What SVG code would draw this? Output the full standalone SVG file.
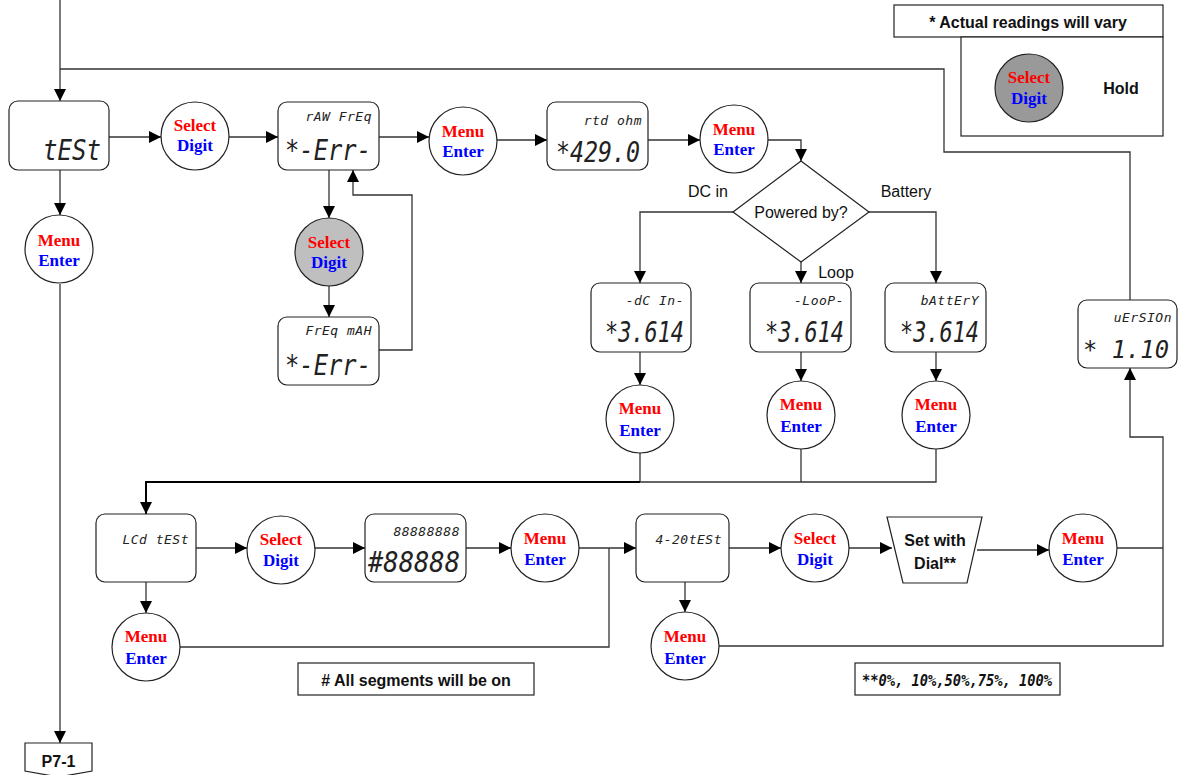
<svg xmlns="http://www.w3.org/2000/svg" width="1178" height="775" viewBox="0 0 1178 775">
<style>
.bg{fill:#fff}
.box{fill:#fff;stroke:#222;stroke-width:1.2}
.btn{fill:#fff;stroke:#222;stroke-width:1.2}
.gray{fill:#bfbfbf;stroke:#222;stroke-width:1.2}
.dgray{fill:#999;stroke:#222;stroke-width:1.2}
.r{font-family:"Liberation Serif",serif;font-weight:bold;font-size:17px;fill:#f00;text-anchor:middle}
.b{font-family:"Liberation Serif",serif;font-weight:bold;font-size:17px;fill:#00f;text-anchor:middle}
.lcds{font-family:"DejaVu Sans Mono","Liberation Mono",monospace;font-style:italic;font-size:13px;fill:#222;text-anchor:end;letter-spacing:0.5px}
.lcdb{font-family:"DejaVu Sans Mono","Liberation Mono",monospace;font-style:italic;font-size:29px;fill:#222}
.lbl{font-family:"Liberation Sans",sans-serif;font-size:16px;fill:#111}
.note{font-family:"Liberation Sans",sans-serif;font-weight:bold;font-size:16px;fill:#111}
.con{fill:none;stroke:#333;stroke-width:1.3}
</style>
<defs>
<marker id="ah" markerWidth="12" markerHeight="12" refX="12" refY="6" orient="auto" markerUnits="userSpaceOnUse"><path d="M0,0 L12,6 L0,12 z" fill="#000"/></marker>
</defs>
<rect class="bg" width="1178" height="775"/>

<g id="connectors">
<path class="con" d="M60,0 V101" marker-end="url(#ah)"/>
<path class="con" d="M1130,300 V152 H944 V69 H60"/>
<path class="con" d="M109,137 H161" marker-end="url(#ah)"/>
<path class="con" d="M229,137 H278" marker-end="url(#ah)"/>
<path class="con" d="M379,137 H429" marker-end="url(#ah)"/>
<path class="con" d="M497,140 H547" marker-end="url(#ah)"/>
<path class="con" d="M648,140 H700" marker-end="url(#ah)"/>
<path class="con" d="M768,140 H801 V161" marker-end="url(#ah)"/>
<path class="con" d="M733,212 H640 V283" marker-end="url(#ah)"/>
<path class="con" d="M801,262 V283" marker-end="url(#ah)"/>
<path class="con" d="M869,212 H936 V283" marker-end="url(#ah)"/>
<path class="con" d="M640,352 V385" marker-end="url(#ah)"/>
<path class="con" d="M801,352 V381" marker-end="url(#ah)"/>
<path class="con" d="M936,352 V381" marker-end="url(#ah)"/>
<path class="con" d="M640,453 V482"/>
<path class="con" d="M801,449 V482"/>
<path class="con" d="M936,449 V482 H640"/>
<path class="con" style="stroke-width:2;stroke:#000" d="M640,482 H146 V514" marker-end="url(#ah)"/>
<path class="con" d="M60,170 V215" marker-end="url(#ah)"/>
<path class="con" d="M60,284 V743" marker-end="url(#ah)"/>
<path class="con" d="M329,170 V218" marker-end="url(#ah)"/>
<path class="con" d="M329,286 V317" marker-end="url(#ah)"/>
<path class="con" d="M379,350 H412 V195 H353 V170" marker-end="url(#ah)"/>
<path class="con" d="M196,548 H247" marker-end="url(#ah)"/>
<path class="con" d="M315,548 H365" marker-end="url(#ah)"/>
<path class="con" d="M466,548 H511" marker-end="url(#ah)"/>
<path class="con" d="M579,548 H636" marker-end="url(#ah)"/>
<path class="con" d="M146,582 V613" marker-end="url(#ah)"/>
<path class="con" d="M180,647 H609 V548"/>
<path class="con" d="M729,548 H781" marker-end="url(#ah)"/>
<path class="con" d="M849,548 H892" marker-end="url(#ah)"/>
<path class="con" d="M977,550 H1049" marker-end="url(#ah)"/>
<path class="con" d="M1117,548 H1163"/>
<path class="con" d="M719,646 H1163 V437 H1130 V368" marker-end="url(#ah)"/>
<path class="con" d="M685,582 V612" marker-end="url(#ah)"/>
</g>

<g id="test">
<rect class="box" x="9" y="101" width="100" height="69" rx="9"/>
<text class="lcdb" x="43" y="160" textLength="58" lengthAdjust="spacingAndGlyphs">tESt</text>
</g>
<g id="menu-test">
<circle class="btn" cx="59" cy="249" r="34"/>
<text class="r" x="59" y="246">Menu</text><text class="b" x="59" y="266">Enter</text>
</g>
<g id="select1">
<circle class="btn" cx="195" cy="136" r="34"/>
<text class="r" x="195" y="131">Select</text><text class="b" x="195" y="151">Digit</text>
</g>
<g id="rawfreq">
<rect class="box" x="278" y="102" width="101" height="68" rx="9"/>
<text class="lcds" x="372" y="121">rAW FrEq</text>
<text class="lcdb" x="285" y="160" textLength="86" lengthAdjust="spacingAndGlyphs">*-Err-</text>
</g>
<g id="select-hold">
<circle class="gray" cx="329" cy="252" r="34"/>
<text class="r" x="329" y="248">Select</text><text class="b" x="329" y="268">Digit</text>
</g>
<g id="freqmah">
<rect class="box" x="278" y="317" width="101" height="68" rx="9"/>
<text class="lcds" x="372" y="335">FrEq mAH</text>
<text class="lcdb" x="285" y="375" textLength="86" lengthAdjust="spacingAndGlyphs">*-Err-</text>
</g>
<g id="menu1">
<circle class="btn" cx="463" cy="141" r="34"/>
<text class="r" x="463" y="137">Menu</text><text class="b" x="463" y="157">Enter</text>
</g>
<g id="rtd">
<rect class="box" x="547" y="102" width="101" height="68" rx="9"/>
<text class="lcds" x="642" y="125">rtd ohm</text>
<text class="lcdb" x="556" y="162" textLength="84" lengthAdjust="spacingAndGlyphs">*429.0</text>
</g>
<g id="menu2">
<circle class="btn" cx="734" cy="139" r="34"/>
<text class="r" x="734" y="135">Menu</text><text class="b" x="734" y="155">Enter</text>
</g>
<g id="powered">
<polygon class="box" points="801,161 869,212 801,262 733,212"/>
<text class="lbl" x="801" y="218" text-anchor="middle">Powered by?</text>
<text class="lbl" x="708" y="197" text-anchor="middle">DC in</text>
<text class="lbl" x="906" y="197" text-anchor="middle">Battery</text>
<text class="lbl" x="836" y="278" text-anchor="middle">Loop</text>
</g>
<g id="dcin">
<rect class="box" x="591" y="283" width="100" height="69" rx="9"/>
<text class="lcds" x="684" y="305">-dC In-</text>
<text class="lcdb" x="605" y="342" textLength="79" lengthAdjust="spacingAndGlyphs">*3.614</text>
</g>
<g id="loop">
<rect class="box" x="750" y="283" width="101" height="69" rx="9"/>
<text class="lcds" x="844" y="305">-LooP-</text>
<text class="lcdb" x="765" y="342" textLength="79" lengthAdjust="spacingAndGlyphs">*3.614</text>
</g>
<g id="battery">
<rect class="box" x="885" y="283" width="101" height="69" rx="9"/>
<text class="lcds" x="979" y="305">bAttErY</text>
<text class="lcdb" x="900" y="342" textLength="79" lengthAdjust="spacingAndGlyphs">*3.614</text>
</g>
<g id="menu-dc">
<circle class="btn" cx="640" cy="419" r="34"/>
<text class="r" x="640" y="414">Menu</text><text class="b" x="640" y="436">Enter</text>
</g>
<g id="menu-loop">
<circle class="btn" cx="801" cy="415" r="34"/>
<text class="r" x="801" y="410">Menu</text><text class="b" x="801" y="432">Enter</text>
</g>
<g id="menu-bat">
<circle class="btn" cx="936" cy="415" r="34"/>
<text class="r" x="936" y="410">Menu</text><text class="b" x="936" y="432">Enter</text>
</g>
<g id="version">
<rect class="box" x="1078" y="300" width="99" height="68" rx="9"/>
<text class="lcds" x="1172" y="322">uErSIOn</text>
<text class="lcdb" x="1083" y="358" style="font-size:25px" textLength="86" lengthAdjust="spacingAndGlyphs">* 1.10</text>
</g>
<g id="legend">
<rect class="box" x="894" y="5" width="269" height="32"/>
<text class="note" x="1028" y="28" text-anchor="middle">* Actual readings will vary</text>
<rect class="box" x="961" y="37" width="202" height="99"/>
<circle class="dgray" cx="1029" cy="88" r="34"/>
<text class="r" x="1029" y="83">Select</text><text class="b" x="1029" y="104">Digit</text>
<text class="note" x="1121" y="94" text-anchor="middle">Hold</text>
</g>
<g id="lcdtest">
<rect class="box" x="96" y="514" width="100" height="68" rx="9"/>
<text class="lcds" x="189" y="544">LCd tESt</text>
</g>
<g id="menu-lcd">
<circle class="btn" cx="146" cy="647" r="34"/>
<text class="r" x="146" y="642">Menu</text><text class="b" x="146" y="664">Enter</text>
</g>
<g id="select-lcd">
<circle class="btn" cx="281" cy="550" r="34"/>
<text class="r" x="281" y="545">Select</text><text class="b" x="281" y="566">Digit</text>
</g>
<g id="allseg">
<rect class="box" x="365" y="514" width="101" height="68" rx="9"/>
<text class="lcds" x="460" y="536">88888888</text>
<text class="lcdb" x="368" y="572" textLength="92" lengthAdjust="spacingAndGlyphs">#88888</text>
</g>
<g id="menu-seg">
<circle class="btn" cx="545" cy="548" r="34"/>
<text class="r" x="545" y="544">Menu</text><text class="b" x="545" y="565">Enter</text>
</g>
<g id="test420">
<rect class="box" x="636" y="514" width="93" height="68" rx="9"/>
<text class="lcds" x="722" y="544">4-20tESt</text>
</g>
<g id="menu-420">
<circle class="btn" cx="685" cy="646" r="34"/>
<text class="r" x="685" y="642">Menu</text><text class="b" x="685" y="664">Enter</text>
</g>
<g id="select-420">
<circle class="btn" cx="815" cy="548" r="34"/>
<text class="r" x="815" y="544">Select</text><text class="b" x="815" y="565">Digit</text>
</g>
<g id="dial">
<polygon class="box" points="887,517 982,517 967,583 903,583"/>
<text class="note" x="935" y="546" text-anchor="middle">Set with</text>
<text class="note" x="935" y="569" text-anchor="middle">Dial**</text>
</g>
<g id="menu-dial">
<circle class="btn" cx="1083" cy="548" r="34"/>
<text class="r" x="1083" y="544">Menu</text><text class="b" x="1083" y="565">Enter</text>
</g>
<g id="note-seg">
<rect class="box" x="298" y="663" width="236" height="32"/>
<text class="note" x="416" y="686" text-anchor="middle"># All segments will be on</text>
</g>
<g id="note-pct">
<rect class="box" x="855" y="663" width="205" height="32"/>
<text x="862" y="686" textLength="190" lengthAdjust="spacingAndGlyphs" style="font-family:'DejaVu Sans Mono',monospace;font-style:italic;font-weight:bold;font-size:15px;fill:#111">**0%, 10%,50%,75%, 100%</text>
</g>
<g id="p7-1">
<polygon class="box" points="25,743 92,743 92,771 58.5,777 25,771"/>
<text class="note" x="58.5" y="767" text-anchor="middle">P7-1</text>
</g>
</svg>
